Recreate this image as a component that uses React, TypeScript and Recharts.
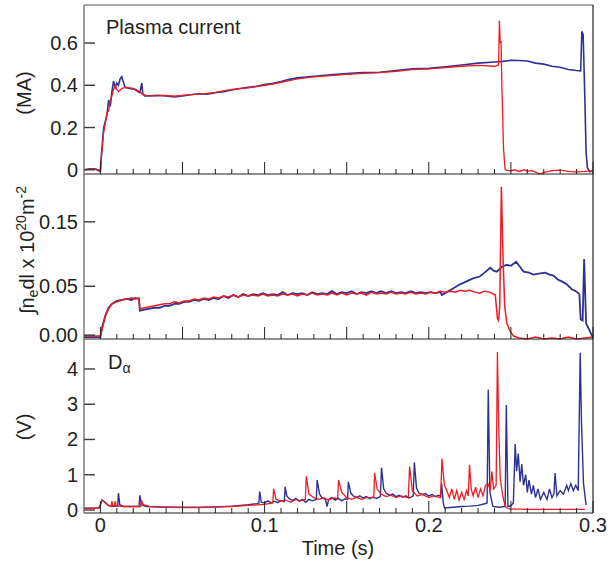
import React from "react";
import { LineChart, Line, XAxis, YAxis } from "recharts";

const BLUE = "#2e3192";
const RED = "#ed1c24";
const INK = "#231f20";
const FRAME = "#58595b";
const FONT = '"Liberation Sans", Arial, Helvetica, sans-serif';

// time axis (s)
const timeTicks = [
  0, 0.01, 0.02, 0.03, 0.04, 0.05, 0.06, 0.07, 0.08, 0.09, 0.1, 0.11, 0.12, 0.13, 0.14, 0.15,
  0.16, 0.17, 0.18, 0.19, 0.2, 0.21, 0.22, 0.23, 0.24, 0.25, 0.26, 0.27, 0.28, 0.29, 0.3,
];
const timeLabelTicks = [0, 0.1, 0.2, 0.3];
const timeLabelText = ["0", "0.1", "0.2", "0.3"];

// y ticks per panel
const ipTicks = [0, 0.2, 0.4, 0.6];
const ipTickText = ["0", "0.2", "0.4", "0.6"];
const neTicks = [0, 0.05, 0.116];
const neTickText = ["0.00", "0.05", "0.15"];
const daTicks = [0, 1, 2, 3, 4];
const daTickText = ["0", "1", "2", "3", "4"];

// plasma current (MA), [t, value]
const ipBlue: [number, number][] = [
  [-0.01, 0], [-0.006, 0.005], [-0.003, 0.004], [0, -0.005], [0.0005, 0.06], [0.002, 0.2],
  [0.004, 0.26], [0.005, 0.33], [0.006, 0.3], [0.007, 0.37], [0.008, 0.42], [0.009, 0.39],
  [0.01, 0.41], [0.011, 0.4], [0.012, 0.43], [0.013, 0.44], [0.015, 0.39], [0.018, 0.385],
  [0.021, 0.38], [0.024, 0.365], [0.0252, 0.41], [0.0258, 0.36], [0.027, 0.35], [0.03, 0.35],
  [0.035, 0.353], [0.04, 0.35], [0.045, 0.345], [0.05, 0.35], [0.055, 0.355], [0.06, 0.36],
  [0.065, 0.358], [0.07, 0.365], [0.075, 0.37], [0.08, 0.378], [0.085, 0.385], [0.09, 0.39],
  [0.095, 0.395], [0.1, 0.403], [0.105, 0.41], [0.11, 0.418], [0.115, 0.428], [0.12, 0.435],
  [0.13, 0.443], [0.14, 0.45], [0.15, 0.455], [0.16, 0.46], [0.17, 0.462], [0.18, 0.47],
  [0.19, 0.478], [0.2, 0.48], [0.21, 0.488], [0.22, 0.496], [0.23, 0.505], [0.24, 0.51],
  [0.245, 0.513], [0.25, 0.518], [0.255, 0.517], [0.26, 0.515], [0.265, 0.505], [0.27, 0.5],
  [0.275, 0.49], [0.28, 0.485], [0.285, 0.475], [0.29, 0.47], [0.2925, 0.468], [0.2932, 0.655],
  [0.294, 0.64], [0.295, 0.35], [0.2958, 0.08], [0.2966, 0.01], [0.298, -0.01], [0.3, -0.005],
];
const ipRed: [number, number][] = [
  [-0.01, 0], [-0.006, 0.004], [-0.003, 0.003], [0, -0.01], [0.0005, 0.05], [0.002, 0.18],
  [0.003, 0.22], [0.004, 0.27], [0.005, 0.28], [0.006, 0.33], [0.007, 0.35], [0.008, 0.38],
  [0.009, 0.4], [0.01, 0.38], [0.011, 0.37], [0.013, 0.385], [0.016, 0.39], [0.02, 0.385],
  [0.024, 0.37], [0.026, 0.355], [0.03, 0.35], [0.035, 0.35], [0.04, 0.352], [0.045, 0.348],
  [0.05, 0.352], [0.055, 0.356], [0.06, 0.358], [0.065, 0.362], [0.07, 0.366], [0.075, 0.374],
  [0.08, 0.38], [0.085, 0.384], [0.09, 0.388], [0.095, 0.394], [0.1, 0.4], [0.105, 0.406],
  [0.11, 0.414], [0.115, 0.422], [0.12, 0.43], [0.13, 0.44], [0.14, 0.446], [0.15, 0.452],
  [0.16, 0.456], [0.17, 0.46], [0.18, 0.466], [0.19, 0.474], [0.2, 0.478], [0.21, 0.484],
  [0.22, 0.49], [0.23, 0.494], [0.24, 0.49], [0.2425, 0.495], [0.243, 0.706], [0.2435, 0.6],
  [0.244, 0.61], [0.2445, 0.4], [0.2455, 0.1], [0.2465, 0], [0.248, -0.003], [0.25, -0.005],
  [0.252, 0], [0.255, -0.008], [0.258, 0], [0.26, -0.006], [0.263, -0.004], [0.266, -0.015],
  [0.268, -0.02], [0.27, -0.012], [0.275, -0.004], [0.28, -0.002], [0.285, -0.008], [0.29, -0.01],
  [0.295, -0.008], [0.3, -0.005],
];

// line density (1e20 m^-2)
const neBlue: [number, number][] = [
  [-0.01, -0.002], [0, -0.002], [0.001, 0.008], [0.003, 0.02], [0.005, 0.028], [0.007, 0.032],
  [0.01, 0.035], [0.013, 0.036], [0.016, 0.037], [0.019, 0.036], [0.021, 0.038], [0.0235, 0.037],
  [0.024, 0.025], [0.027, 0.026], [0.03, 0.027], [0.033, 0.028], [0.036, 0.028], [0.039, 0.03],
  [0.042, 0.03], [0.045, 0.032], [0.048, 0.032], [0.051, 0.034], [0.054, 0.034], [0.057, 0.036],
  [0.06, 0.035], [0.063, 0.037], [0.066, 0.036], [0.069, 0.038], [0.072, 0.037], [0.075, 0.04],
  [0.078, 0.038], [0.081, 0.041], [0.084, 0.039], [0.087, 0.042], [0.09, 0.04], [0.093, 0.042],
  [0.096, 0.041], [0.099, 0.043], [0.102, 0.041], [0.105, 0.042], [0.108, 0.041], [0.111, 0.044],
  [0.114, 0.041], [0.117, 0.043], [0.12, 0.042], [0.123, 0.043], [0.126, 0.041], [0.129, 0.044],
  [0.132, 0.042], [0.135, 0.043], [0.138, 0.042], [0.141, 0.045], [0.144, 0.042], [0.147, 0.044],
  [0.15, 0.043], [0.153, 0.045], [0.156, 0.042], [0.159, 0.044], [0.162, 0.043], [0.165, 0.045],
  [0.168, 0.043], [0.171, 0.045], [0.174, 0.043], [0.177, 0.045], [0.18, 0.043], [0.183, 0.044],
  [0.186, 0.043], [0.189, 0.045], [0.192, 0.043], [0.195, 0.044], [0.198, 0.043], [0.201, 0.044],
  [0.204, 0.043], [0.207, 0.044], [0.208, 0.041], [0.211, 0.044], [0.215, 0.048], [0.219, 0.052],
  [0.223, 0.055], [0.227, 0.058], [0.231, 0.06], [0.234, 0.064], [0.2374, 0.069], [0.2395, 0.066],
  [0.2414, 0.065], [0.2445, 0.07], [0.2475, 0.072], [0.25, 0.071], [0.2532, 0.075], [0.2555, 0.07],
  [0.2577, 0.065], [0.261, 0.064], [0.2637, 0.062], [0.267, 0.063], [0.2708, 0.064], [0.2735, 0.062],
  [0.2759, 0.061], [0.2785, 0.057], [0.281, 0.055], [0.284, 0.052], [0.2871, 0.047], [0.2895, 0.045],
  [0.2917, 0.042], [0.2925, 0.016], [0.2937, 0.015], [0.2946, 0.078], [0.2958, 0.012], [0.2975, 0.006],
  [0.2992, 0], [0.3, -0.002],
];
const neRed: [number, number][] = [
  [-0.01, -0.001], [0, -0.001], [0.001, 0.006], [0.003, 0.019], [0.005, 0.027], [0.007, 0.032],
  [0.01, 0.034], [0.013, 0.036], [0.016, 0.037], [0.019, 0.038], [0.021, 0.037], [0.0235, 0.038],
  [0.024, 0.027], [0.027, 0.028], [0.03, 0.029], [0.033, 0.03], [0.036, 0.031], [0.039, 0.032],
  [0.042, 0.032], [0.045, 0.034], [0.048, 0.033], [0.051, 0.035], [0.054, 0.035], [0.057, 0.037],
  [0.06, 0.036], [0.063, 0.038], [0.066, 0.037], [0.069, 0.039], [0.072, 0.038], [0.075, 0.04],
  [0.078, 0.039], [0.081, 0.041], [0.084, 0.039], [0.087, 0.041], [0.09, 0.04], [0.093, 0.041],
  [0.096, 0.04], [0.099, 0.042], [0.102, 0.04], [0.105, 0.041], [0.108, 0.04], [0.111, 0.042],
  [0.114, 0.041], [0.117, 0.042], [0.12, 0.04], [0.123, 0.042], [0.126, 0.041], [0.129, 0.043],
  [0.132, 0.041], [0.135, 0.042], [0.138, 0.041], [0.141, 0.043], [0.144, 0.041], [0.147, 0.043],
  [0.15, 0.041], [0.153, 0.043], [0.156, 0.042], [0.159, 0.043], [0.162, 0.041], [0.165, 0.044],
  [0.168, 0.042], [0.171, 0.043], [0.174, 0.042], [0.177, 0.044], [0.18, 0.042], [0.183, 0.043],
  [0.186, 0.042], [0.189, 0.044], [0.192, 0.042], [0.195, 0.043], [0.198, 0.042], [0.201, 0.044],
  [0.204, 0.043], [0.207, 0.045], [0.21, 0.044], [0.213, 0.045], [0.216, 0.044], [0.219, 0.046],
  [0.222, 0.045], [0.225, 0.046], [0.228, 0.044], [0.231, 0.043], [0.234, 0.045], [0.237, 0.044],
  [0.2405, 0.041], [0.2418, 0.017], [0.2425, 0.015], [0.2432, 0.03], [0.2442, 0.152], [0.2452, 0.08],
  [0.2462, 0.03], [0.2475, 0.012], [0.2495, 0.004], [0.2516, -0.001], [0.255, -0.003], [0.26, -0.004],
  [0.265, -0.002], [0.27, -0.004], [0.275, -0.003], [0.28, -0.004], [0.285, -0.002], [0.29, -0.004],
  [0.295, -0.003], [0.3, -0.002],
];

// D-alpha (V)
const daBlue: [number, number][] = [
  [-0.01, 0.05], [-0.001, 0.05], [0, 0.15], [0.001, 0.28], [0.003, 0.22], [0.005, 0.13], [0.007, 0.1],
  [0.0105, 0.12], [0.011, 0.48], [0.0118, 0.15], [0.014, 0.1], [0.02, 0.1], [0.0235, 0.1], [0.024, 0.42],
  [0.025, 0.15], [0.028, 0.1], [0.04, 0.08], [0.05, 0.08], [0.06, 0.08], [0.07, 0.09], [0.08, 0.11],
  [0.09, 0.15], [0.0955, 0.18], [0.0965, 0.2], [0.097, 0.52], [0.098, 0.22], [0.1, 0.2], [0.102, 0.26],
  [0.104, 0.2], [0.106, 0.25], [0.108, 0.21], [0.11, 0.27], [0.112, 0.24], [0.1125, 0.66], [0.1135, 0.4],
  [0.115, 0.32], [0.117, 0.27], [0.119, 0.33], [0.121, 0.25], [0.123, 0.3], [0.125, 0.22], [0.127, 0.3],
  [0.129, 0.26], [0.1315, 0.3], [0.132, 0.85], [0.1335, 0.45], [0.135, 0.35], [0.137, 0.3], [0.138, 0.1],
  [0.139, 0.3], [0.141, 0.35], [0.143, 0.28], [0.145, 0.33], [0.147, 0.26], [0.149, 0.32], [0.1505, 0.3],
  [0.151, 0.8], [0.1525, 0.48], [0.154, 0.4], [0.156, 0.36], [0.158, 0.4], [0.16, 0.34], [0.162, 0.38],
  [0.164, 0.32], [0.166, 0.37], [0.168, 0.33], [0.1705, 0.38], [0.1712, 1.2], [0.1725, 0.6], [0.174, 0.48],
  [0.176, 0.42], [0.178, 0.45], [0.18, 0.38], [0.182, 0.42], [0.184, 0.36], [0.186, 0.4], [0.188, 0.34],
  [0.1905, 0.4], [0.1912, 1.35], [0.1925, 0.62], [0.194, 0.48], [0.196, 0.44], [0.198, 0.46], [0.2, 0.4],
  [0.202, 0.44], [0.204, 0.38], [0.206, 0.42], [0.2072, 0.4], [0.2078, 0.75], [0.2088, 0.2], [0.2096, 0.06],
  [0.215, 0.08], [0.22, 0.1], [0.225, 0.11], [0.23, 0.13], [0.2335, 0.17], [0.2355, 0.2], [0.2362, 3.42],
  [0.2372, 0.5], [0.239, 0.1], [0.243, 0.08], [0.2465, 0.1], [0.2472, 2.98], [0.2482, 0.1], [0.25, 0.12],
  [0.2515, 0.2], [0.2526, 1.87], [0.2535, 1.1], [0.2545, 1.6], [0.2556, 0.8], [0.2566, 1.3], [0.2577, 0.7],
  [0.259, 1.0], [0.26, 0.5], [0.261, 0.85], [0.2625, 0.45], [0.2637, 0.7], [0.265, 0.35], [0.2665, 0.6],
  [0.268, 0.3], [0.27, 0.5], [0.272, 0.3], [0.2735, 0.6], [0.275, 0.35], [0.2762, 0.45], [0.2769, 1.05],
  [0.278, 0.4], [0.28, 0.55], [0.282, 0.45], [0.284, 0.7], [0.285, 0.55], [0.2865, 0.75], [0.288, 0.55],
  [0.2895, 0.7], [0.291, 0.55], [0.2922, 4.46], [0.293, 2.47], [0.2942, 0.76], [0.2958, 0.14],
];
const daRed: [number, number][] = [
  [-0.01, 0.05], [-0.001, 0.05], [0, 0.15], [0.001, 0.28], [0.003, 0.2], [0.005, 0.12], [0.0065, 0.12],
  [0.007, 0.25], [0.0075, 0.12], [0.0085, 0.12], [0.009, 0.25], [0.0095, 0.12], [0.015, 0.1], [0.0245, 0.1],
  [0.025, 0.28], [0.026, 0.15], [0.03, 0.1], [0.04, 0.08], [0.05, 0.07], [0.06, 0.07], [0.07, 0.08],
  [0.08, 0.1], [0.09, 0.13], [0.1, 0.16], [0.105, 0.2], [0.1055, 0.6], [0.107, 0.3], [0.11, 0.25],
  [0.113, 0.28], [0.116, 0.22], [0.119, 0.3], [0.122, 0.26], [0.1248, 0.3], [0.1254, 0.96], [0.127, 0.45],
  [0.13, 0.35], [0.133, 0.3], [0.136, 0.34], [0.139, 0.28], [0.142, 0.34], [0.1445, 0.32], [0.145, 0.85],
  [0.147, 0.5], [0.15, 0.35], [0.153, 0.3], [0.156, 0.36], [0.159, 0.3], [0.162, 0.35], [0.1665, 0.35],
  [0.167, 1.05], [0.1685, 0.6], [0.171, 0.45], [0.174, 0.38], [0.177, 0.42], [0.18, 0.35], [0.183, 0.4],
  [0.1875, 0.35], [0.1883, 1.23], [0.19, 0.55], [0.193, 0.4], [0.196, 0.44], [0.2, 0.35], [0.203, 0.4],
  [0.2072, 0.35], [0.208, 1.45], [0.2095, 0.7], [0.211, 0.55], [0.2125, 0.35], [0.214, 0.6], [0.2155, 0.3],
  [0.217, 0.55], [0.2185, 0.28], [0.22, 0.5], [0.2215, 0.3], [0.223, 0.55], [0.224, 0.4], [0.2248, 1.28],
  [0.2258, 0.6], [0.227, 0.4], [0.2285, 0.65], [0.23, 0.35], [0.2315, 0.6], [0.233, 0.4], [0.2345, 0.7],
  [0.236, 0.75], [0.2375, 0.55], [0.2384, 1.09], [0.2395, 0.6], [0.241, 0.7], [0.2418, 4.48], [0.2425, 2.5],
  [0.2435, 0.9], [0.245, 0.42], [0.2465, 0.1], [0.249, 0.03], [0.26, 0.02], [0.28, 0.02], [0.295, 0.02],
];

const toRows = (pts: [number, number][]) => pts.map(([t, v]) => ({ t, v }));

const isMajor = (v: number) => Math.abs(v * 20 - Math.round(v * 20)) < 1e-6;
const findIdx = (list: number[], v: number) => list.findIndex((t) => Math.abs(t - v) < 1e-9);

const Y_TICK = 11;

const TimeTick = (props: any) => {
  const { x, y, payload, withLabels } = props;
  const v = payload.value;
  const len = isMajor(v) ? 12 : 5;
  const idx = findIdx(timeLabelTicks, v);
  return (
    <g>
      <path d={`M${x},${y}V${y - len}`} stroke={INK} strokeWidth={1} fill="none" />
      {withLabels && idx >= 0 && (
        <text x={x} y={y + 19} textAnchor="middle" fontSize={20} fill={INK} fontFamily={FONT}>
          {timeLabelText[idx]}
        </text>
      )}
    </g>
  );
};

// mirrored y axis: x arrives at the inner end of the tick line
const makeValueTick = (ticks: number[], texts: string[]) => (props: any) => {
  const { x, y, payload } = props;
  const idx = findIdx(ticks, payload.value);
  return (
    <text x={x - Y_TICK - 6} y={y} dy="0.35em" textAnchor="end" fontSize={20} fill={INK} fontFamily={FONT}>
      {idx >= 0 ? texts[idx] : ""}
    </text>
  );
};

type Series = { data: [number, number][]; color: string; width: number };

function Panel(props: {
  top: number;
  height: number;
  mt: number;
  mb: number;
  domain: [number, number];
  yTicks: number[];
  yText: string[];
  series: Series[];
  withLabels?: boolean;
}) {
  const { top, height, mt, mb, domain, yTicks, yText, series, withLabels } = props;
  return (
    <div style={{ position: "absolute", left: 0, top }}>
      <LineChart width={613} height={height} margin={{ top: mt, bottom: mb, left: 84, right: 20 }}>
        <XAxis
          type="number"
          dataKey="t"
          domain={() => [-0.01, 0.3]}
          ticks={timeTicks}
          interval={0}
          mirror
          height={30}
          tickSize={0}
          tickMargin={0}
          tickLine={false}
          axisLine={{ stroke: INK, strokeWidth: 1 }}
          tick={(p: any) => <TimeTick {...p} withLabels={withLabels} />}
        />
        <YAxis
          type="number"
          domain={() => domain}
          ticks={yTicks}
          interval={0}
          mirror
          width={60}
          tickSize={Y_TICK}
          tickMargin={0}
          tickLine={{ stroke: "#3a3a3c", strokeWidth: 1.4 }}
          axisLine={false}
          tick={makeValueTick(yTicks, yText)}
        />
        {series.map((s, i) => (
          <Line
            key={i}
            data={toRows(s.data)}
            dataKey="v"
            type="linear"
            stroke={s.color}
            strokeWidth={s.width}
            dot={false}
            activeDot={false}
            isAnimationActive={false}
          />
        ))}
      </LineChart>
    </div>
  );
}

export default function App() {
  return (
    <div
      style={{
        position: "absolute",
        left: 0,
        top: 0,
        width: 613,
        height: 563,
        background: "#fff",
        fontFamily: FONT,
      }}
    >
      <Panel
        top={0}
        height={200}
        mt={5}
        mb={26}
        domain={[0, 0.78]}
        yTicks={ipTicks}
        yText={ipTickText}
        series={[
          { data: ipBlue, color: BLUE, width: 1.6 },
          { data: ipRed, color: RED, width: 1.3 },
        ]}
      />
      <Panel
        top={164}
        height={200}
        mt={10}
        mb={25}
        domain={[0, 0.165]}
        yTicks={neTicks}
        yText={neTickText}
        series={[
          { data: neBlue, color: BLUE, width: 1.8 },
          { data: neRed, color: RED, width: 1.5 },
        ]}
      />
      <Panel
        top={329}
        height={234}
        mt={10}
        mb={50}
        domain={[-0.085, 4.85]}
        yTicks={daTicks}
        yText={daTickText}
        series={[
          { data: daBlue, color: BLUE, width: 1.4 },
          { data: daRed, color: RED, width: 1.3 },
        ]}
        withLabels
      />
      <svg
        width={613}
        height={563}
        style={{ position: "absolute", left: 0, top: 0, pointerEvents: "none" }}
        fontFamily={FONT}
        fill={INK}
      >
        <line x1={84} x2={84} y1={5} y2={513} stroke={FRAME} strokeWidth={1.2} />
        <line x1={84} x2={593} y1={5} y2={5} stroke={FRAME} strokeWidth={1.2} />
        <line x1={593} x2={593} y1={5} y2={513} stroke={INK} strokeWidth={1.2} />
        <text x={106} y={34} fontSize={20}>Plasma current</text>
        <text x={108} y={369} fontSize={20}>
          D<tspan fontSize={14} dy={4}>α</tspan>
        </text>
        <text x={338} y={555} fontSize={20} textAnchor="middle">Time (s)</text>
        <text transform="translate(31,93) rotate(-90)" fontSize={20} textAnchor="middle">(MA)</text>
        <text transform="translate(31,427) rotate(-90)" fontSize={20} textAnchor="middle">(V)</text>
        <text transform="translate(34,250) rotate(-90)" fontSize={20} textAnchor="middle">
          ∫n<tspan fontSize={14} dy={4}>e</tspan>
          <tspan dy={-4}>dl x 10</tspan>
          <tspan fontSize={14} dy={-8}>20</tspan>
          <tspan dy={8}>m</tspan>
          <tspan fontSize={14} dy={-8}>-2</tspan>
        </text>
      </svg>
    </div>
  );
}
